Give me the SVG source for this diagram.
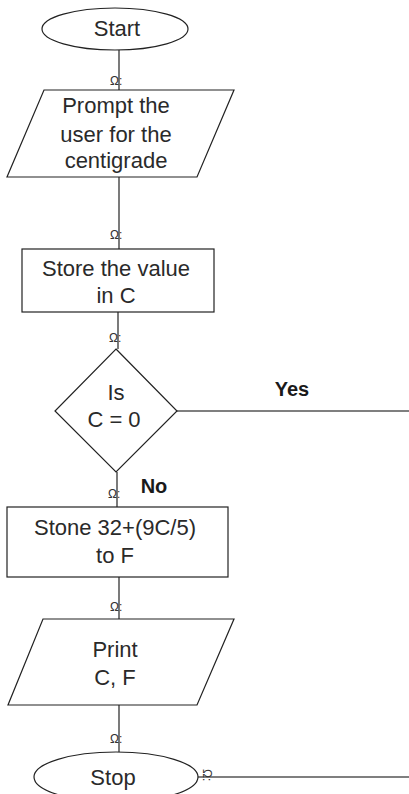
<svg xmlns="http://www.w3.org/2000/svg" width="409" height="794" viewBox="0 0 409 794">
  <style>
    .shape { fill: #ffffff; stroke: #222222; stroke-width: 1.2; }
    .conn { stroke: #333333; stroke-width: 1.3; fill: none; }
    .branch { stroke: #555555; stroke-width: 1.6; fill: none; }
    .label { font-family: "Liberation Sans", Arial, sans-serif; font-size: 22px; fill: #2a2a2a; text-anchor: middle; }
    .bold { font-family: "Liberation Sans", Arial, sans-serif; font-size: 20px; font-weight: bold; fill: #1a1a1a; text-anchor: middle; }
    .tip { font-family: "Liberation Sans", Arial, sans-serif; font-size: 12px; fill: #333333; }
  </style>
  <rect width="409" height="794" fill="#ffffff"/>

  <!-- connectors -->
  <g id="connectors">
    <line class="conn" x1="119" y1="50" x2="119" y2="90"/>
    <line class="conn" x1="119" y1="177" x2="119" y2="249"/>
    <line class="conn" x1="118" y1="312" x2="118" y2="349"/>
    <line class="conn" x1="117" y1="472" x2="117" y2="507"/>
    <line class="conn" x1="119" y1="577" x2="119" y2="619"/>
    <line class="conn" x1="119" y1="705" x2="119" y2="752"/>
    <line class="branch" x1="177" y1="411" x2="409" y2="411"/>
    <line class="branch" x1="198" y1="777" x2="409" y2="777"/>
    <text class="tip" x="110" y="85">Ω:</text>
    <text class="tip" x="110" y="239">Ω:</text>
    <text class="tip" x="109" y="342">Ω:</text>
    <text class="tip" x="108" y="498">Ω:</text>
    <text class="tip" x="110" y="611">Ω:</text>
    <text class="tip" x="110" y="743">Ω:</text>
    <text class="tip" transform="translate(203,769) rotate(90)">Ω:</text>
    <text class="bold" x="292" y="396">Yes</text>
    <text class="bold" x="154" y="493">No</text>
  </g>

  <!-- start terminal -->
  <g id="start">
    <ellipse class="shape" cx="115" cy="29" rx="73" ry="21"/>
    <text class="label" x="117" y="36">Start</text>
  </g>

  <!-- input prompt -->
  <g id="prompt">
    <polygon class="shape" points="44,90 234,90 197,177 7,177"/>
    <text class="label" x="116" y="113">Prompt the</text>
    <text class="label" x="116" y="142">user for the</text>
    <text class="label" x="116" y="168">centigrade</text>
  </g>

  <!-- store value -->
  <g id="store">
    <rect class="shape" x="22" y="249" width="192" height="63"/>
    <text class="label" x="116" y="276">Store the value</text>
    <text class="label" x="116" y="303">in C</text>
  </g>

  <!-- decision -->
  <g id="decision">
    <polygon class="shape" points="116,349 177,411 116,472 55,411"/>
    <text class="label" x="116" y="400">Is</text>
    <text class="label" x="114" y="427">C = 0</text>
  </g>

  <!-- conversion -->
  <g id="convert">
    <rect class="shape" x="7" y="507" width="221" height="70"/>
    <text class="label" x="115" y="535">Stone 32+(9C/5)</text>
    <text class="label" x="115" y="563">to F</text>
  </g>

  <!-- output -->
  <g id="print">
    <polygon class="shape" points="43,619 234,619 197,705 8,705"/>
    <text class="label" x="115" y="657">Print</text>
    <text class="label" x="115" y="685">C, F</text>
  </g>

  <!-- stop terminal -->
  <g id="stop">
    <ellipse class="shape" cx="116" cy="777" rx="82" ry="25"/>
    <text class="label" x="113" y="785">Stop</text>
  </g>
</svg>
